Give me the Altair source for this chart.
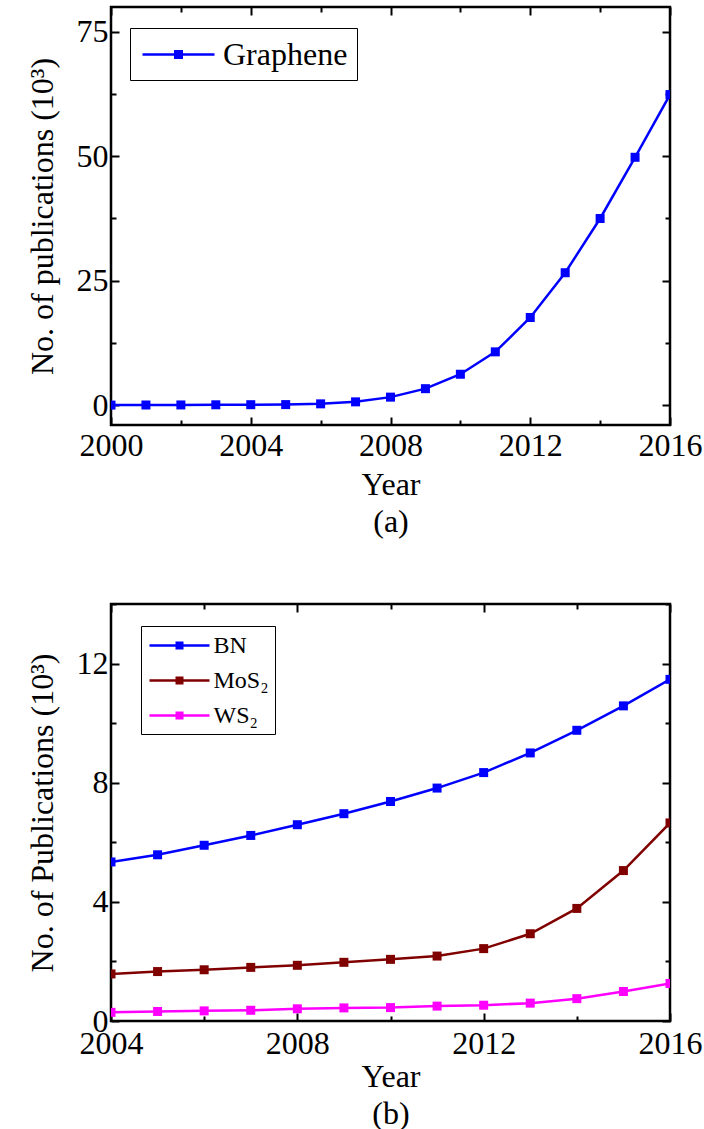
import altair as alt
import pandas as pd

# ---------------- data ----------------
years_a = list(range(2000, 2017))
graphene = [0.0, 0.02, 0.03, 0.06, 0.08, 0.1, 0.25, 0.65, 1.6, 3.3, 6.2,
            10.7, 17.6, 26.6, 37.5, 49.8, 62.4]

years_b = list(range(2004, 2017))
bn = [5.34, 5.58, 5.90, 6.23, 6.59, 6.96, 7.37, 7.82, 8.34, 9.00, 9.76, 10.58, 11.47]
mos2 = [1.58, 1.66, 1.72, 1.80, 1.87, 1.97, 2.07, 2.18, 2.43, 2.93, 3.78, 5.05, 6.65]
ws2 = [0.29, 0.32, 0.34, 0.36, 0.41, 0.44, 0.45, 0.50, 0.53, 0.60, 0.75, 0.99, 1.26]

names_a = ["Graphene"]
colors_a = ["#0000ff"]
names_b = ["BN", "MoS\u2082", "WS\u2082"]
colors_b = ["#0000ff", "#800000", "#ff00ff"]

xmaj_a = [2000, 2004, 2008, 2012, 2016]
xmin_a = [2002, 2006, 2010, 2014]
ymaj_a = [0, 25, 50, 75]
ymin_a = [12.5, 37.5, 62.5]

xmaj_b = [2004, 2008, 2012, 2016]
xmin_b = [2006, 2010, 2014]
ymaj_b = [0, 4, 8, 12]
ymin_b = [2, 6, 10, 14]

df_a = pd.DataFrame({"year": years_a, "value": graphene, "series": names_a[0]})
df_b = pd.concat([
    pd.DataFrame({"year": years_b, "value": bn, "series": names_b[0]}),
    pd.DataFrame({"year": years_b, "value": mos2, "series": names_b[1]}),
    pd.DataFrame({"year": years_b, "value": ws2, "series": names_b[2]}),
])

FONT = "Liberation Serif"
FS = 32
MAJ, MIN = 8, 5
SW = 2.5


def legend_symbol(unit, half_len, half_sq, sw=SW, n=4):
    """Line + filled square as stroked subpaths; 1 path unit = `unit` px."""
    L = half_len / unit
    h = half_sq / unit
    parts = [f"M{-L:.4f},0L{L:.4f},0"]
    a = half_sq - sw / 2
    for i in range(n):
        y = (-a + i * 2 * a / (n - 1)) / unit
        parts.append(f"M{-h:.4f},{y:.4f}L{h:.4f},{y:.4f}")
    return "".join(parts)


def ax(orient, values, tick, labels=False, title=None, **kw):
    return alt.Axis(orient=orient, values=values, tickSize=tick, offset=-tick,
                    domain=False, grid=False, ticks=True, tickColor="black",
                    tickWidth=2, labels=labels, title=title, minExtent=0,
                    labelFont=FONT, labelFontSize=FS, labelColor="black",
                    titleFont=FONT, titleFontSize=FS, titleColor="black",
                    titleFontWeight="normal", **kw)


def panel(df, xdom, ydom, xmaj, xmin, ymaj, ymin, xtitle, ytitle, names, colors,
          legend, w, h, xlp, xtp, ytp, lh):
    xs = alt.Scale(domain=xdom, nice=False, zero=False)
    ys = alt.Scale(domain=ydom, nice=False, zero=False)
    cs = alt.Scale(domain=names, range=colors)

    line = alt.Chart(df).mark_line(strokeWidth=SW, clip=True).encode(
        x=alt.X("year:Q", scale=xs,
                axis=ax("bottom", xmaj, MAJ, labels=True, title=xtitle,
                        format="d", labelPadding=xlp, labelFlush=False,
                        labelOverlap=False, titlePadding=xtp,
                        titleLineHeight=lh)),
        y=alt.Y("value:Q", scale=ys,
                axis=ax("left", ymaj, MAJ, labels=True, title=ytitle,
                        format="d", labelPadding=3, labelOverlap=False,
                        labelFlush=False, titlePadding=ytp)),
        color=alt.Color("series:N", scale=cs, legend=legend),
        order="year:Q",
    )
    pts = alt.Chart(df).mark_point(shape="square", filled=True, size=81,
                                   opacity=1, clip=True).encode(
        x=alt.X("year:Q", scale=xs, axis=None),
        y=alt.Y("value:Q", scale=ys, axis=None),
        color=alt.Color("series:N", scale=cs, legend=None),
    )

    def ghost(xo, xv, xt, yo, yv, yt):
        return alt.Chart(df).mark_point(opacity=0).encode(
            x=alt.X("year:Q", scale=xs, axis=ax(xo, xv, xt)),
            y=alt.Y("value:Q", scale=ys, axis=ax(yo, yv, yt)),
        )

    g1 = ghost("top", xmaj, MAJ, "right", ymaj, MAJ)
    g2 = ghost("bottom", xmin, MIN, "left", ymin, MIN)
    g3 = ghost("top", xmin, MIN, "right", ymin, MIN)

    return alt.layer(line, pts, g1, g2, g3).resolve_axis(
        x="independent", y="independent"
    ).properties(width=w, height=h)


# legend (a): symbol unit 16 px (size 32^2), line 72 px, square 9 px
leg_a = alt.Legend(
    title=None, orient="none", legendX=19, legendY=21, direction="vertical",
    strokeColor="black", fillColor="white", padding=9,
    symbolType=legend_symbol(16, 36, 4.5), symbolSize=32 * 32,
    symbolStrokeWidth=SW, symbolOffset=22, labelOffset=27,
    labelFont=FONT, labelFontSize=FS, labelColor="black", labelLimit=300,
)
# legend (b): symbol unit 12 px (size 24^2), line 60 px, square 8 px
leg_b = alt.Legend(
    title=None, orient="none", legendX=30, legendY=22, direction="vertical",
    strokeColor="black", fillColor="white", padding=6,
    symbolType=legend_symbol(12, 30, 4), symbolSize=24 * 24,
    symbolStrokeWidth=SW, symbolOffset=19, labelOffset=20.5, rowPadding=9,
    labelFont=FONT, labelFontSize=24, labelColor="black", labelLimit=300,
)

pa = panel(df_a, [2000, 2016], [-4, 80], xmaj_a, xmin_a, ymaj_a, ymin_a,
           ["Year", "(a)"], "No. of publications (10\u00b3)", names_a, colors_a,
           leg_a, 559, 418, xlp=5, xtp=8, ytp=17, lh=37)
pb = panel(df_b, [2004, 2016], [0, 14], xmaj_b, xmin_b, ymaj_b, ymin_b,
           ["Year", "(b)"], "No. of Publications (10\u00b3)", names_b, colors_b,
           leg_b, 559, 417, xlp=7, xtp=2, ytp=17, lh=37)

chart = alt.vconcat(pa, pb, spacing=62).resolve_scale(
    color="independent"
).resolve_legend(
    color="independent"
).properties(
    padding={"left": 24, "top": 4, "right": 0, "bottom": 0},
    background="white",
).configure_view(stroke="black", strokeWidth=2.5)

chart.save("out.html", embed_options={"renderer": "svg", "actions": False})
